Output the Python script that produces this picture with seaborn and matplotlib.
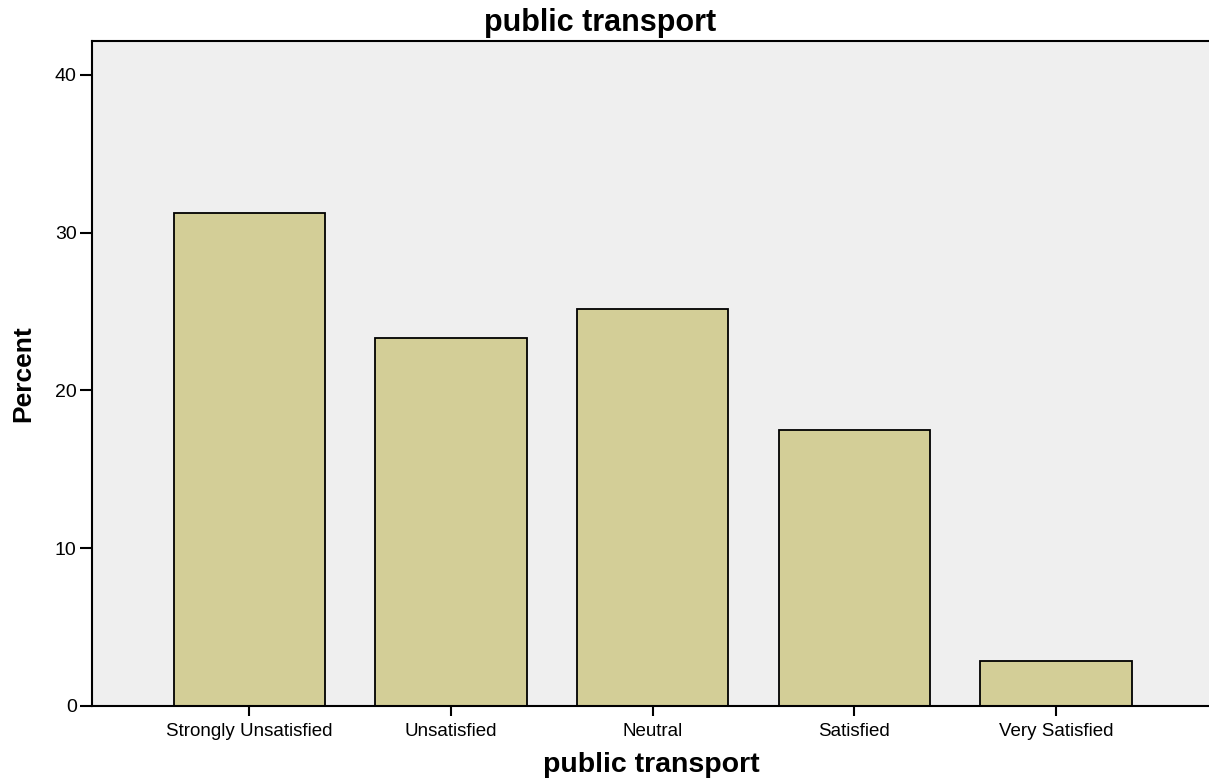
import matplotlib
matplotlib.use("Agg")
import matplotlib.pyplot as plt
import seaborn as sns
import pandas as pd

categories = ["Strongly Unsatisfied", "Unsatisfied", "Neutral", "Satisfied", "Very Satisfied"]
percent = [31.25, 23.33, 25.17, 17.50, 2.85]
y_ticks = [0, 10, 20, 30, 40]

sns.set_theme(style="ticks")
plt.rcParams["font.family"] = ["Liberation Sans", "DejaVu Sans"]
plt.rcParams["text.color"] = "black"
plt.rcParams["axes.labelcolor"] = "black"
plt.rcParams["xtick.color"] = "black"
plt.rcParams["ytick.color"] = "black"

df = pd.DataFrame({"category": categories, "percent": percent})

fig = plt.figure(figsize=(12.09, 7.81), dpi=100)
ax = fig.add_axes([92 / 1209, 75 / 781, 1 - 92 / 1209 + 0.002, (706 - 41) / 781])
ax.set_facecolor("#efefef")

sns.barplot(data=df, x="category", y="percent", color="#d3ce97", saturation=1,
            width=0.75, edgecolor="black", linewidth=1.3, ax=ax)

ax.set_xlim(-0.78, 4.77)
ax.set_ylim(0, 42.15)
ax.set_yticks(y_ticks)
ax.set_yticklabels([str(t) for t in y_ticks], fontsize=14)
ax.tick_params(axis="y", direction="out", length=9, width=1.5, pad=2, colors="black")
ax.tick_params(axis="x", direction="out", length=7, width=1.5, pad=5, labelsize=13.5, colors="black")

for s in ["left", "bottom", "top"]:
    ax.spines[s].set_linewidth(1.5)
    ax.spines[s].set_color("black")
ax.spines["right"].set_visible(False)

fig.text(600 / 1209, 1 - 23 / 781, "public transport", fontsize=22, fontweight="bold",
         ha="center", va="center", color="black")
ax.set_xlabel("public transport", fontsize=20.5, fontweight="bold", labelpad=9)
ax.set_ylabel("Percent", fontsize=19, fontweight="bold", labelpad=14,
              family=["Liberation Sans Narrow", "Liberation Sans", "DejaVu Sans"])

fig.savefig("out.png", dpi=100)
